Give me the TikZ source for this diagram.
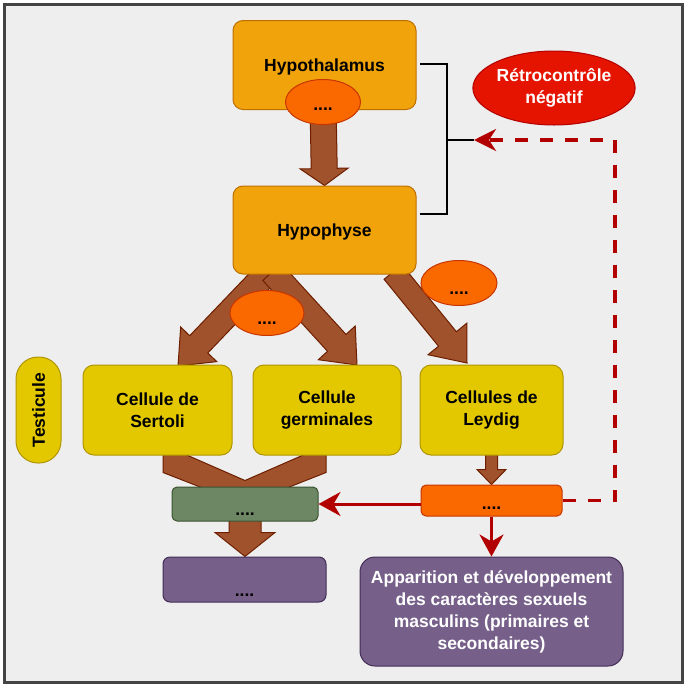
\documentclass[tikz,border=0pt]{standalone}
\usepackage{fontspec}
\setmainfont{Liberation Sans}
\usetikzlibrary{calc,shapes.geometric,arrows.meta,backgrounds}
\definecolor{bgc}{HTML}{EEEEEE}
\definecolor{framec}{HTML}{444444}
\definecolor{orfill}{HTML}{F0A30A}
\definecolor{ordraw}{HTML}{BD7000}
\definecolor{ofill}{HTML}{FA6800}
\definecolor{odraw}{HTML}{C73500}
\definecolor{brfill}{HTML}{A0522D}
\definecolor{brdraw}{HTML}{6D1F00}
\definecolor{yfill}{HTML}{E3C800}
\definecolor{ydraw}{HTML}{B09500}
\definecolor{gfill}{HTML}{6D8764}
\definecolor{gdraw}{HTML}{3A5431}
\definecolor{pfill}{HTML}{76608A}
\definecolor{pdraw}{HTML}{432D57}
\definecolor{rfill}{HTML}{E51400}
\definecolor{rdraw}{HTML}{B20000}
\newcommand\blockarr[5]{%
  \filldraw[blockarrow] let \p1=($(#2)-(#1)$), \n1={atan2(\y1,\x1)} in
   ($(#1)+(\n1+90:#3pt)$) -- ($(#2)+(\n1+180:#5pt)+(\n1+90:#3pt)$)
   -- ($(#2)+(\n1+180:#5pt)+(\n1+90:#4pt)$) -- (#2)
   -- ($(#2)+(\n1+180:#5pt)+(\n1-90:#4pt)$) -- ($(#2)+(\n1+180:#5pt)+(\n1-90:#3pt)$)
   -- ($(#1)+(\n1-90:#3pt)$) -- cycle;}
\tikzset{
  every node/.style={font=\fontsize{17.5}{22}\selectfont\bfseries, align=center, inner sep=0pt},
  dotlbl/.style={anchor=base},
  hbox/.style={draw=ordraw, fill=orfill, line width=1pt, rounded corners=10pt, minimum width=183pt, minimum height=89pt},
  cellbox/.style={draw=ydraw, fill=yfill, line width=1pt, rounded corners=11pt, minimum height=90pt},
  oell/.style={ellipse, draw=odraw, fill=ofill, line width=1pt},
  blockarrow/.style={fill=brfill, draw=brdraw, line width=1pt, line join=miter},
  redarr/.style={draw=rdraw, line width=3pt, -{Stealth[length=22pt, width=24pt, inset=7pt]}},
  dasharr/.style={draw=rdraw, line width=3.5pt, dash pattern=on 13pt off 12pt, -{Stealth[length=22pt, width=22pt, inset=7pt]}},
}
\begin{document}
\begin{tikzpicture}[x=1pt, y=-1pt]
\useasboundingbox (0,0) rectangle (685,686);
\begin{scope}[on background layer]
\fill[white] (0,0) rectangle (685,686);
\draw[line width=3pt, draw=framec, fill=bgc] (4.5,4.5) rectangle (682.5,682);
\end{scope}

% nodes
\node[hbox] (hypothal) at (324.5,65) {};
\node (hypothaltxt) at (324.5,66.5) {Hypothalamus};
\node[oell, minimum width=75pt, minimum height=45pt] (hypoell) at (323,102) {};
\node[dotlbl] (hypoelltxt) at ($(hypoell.center)+(0,8.6)$) {....};
\node[hbox, minimum height=88pt] (hypophyse) at (324.5,230) {};
\node (hypophysetxt) at (324.5,231.5) {Hypophyse};
\node[ellipse, draw=rdraw, fill=rfill, line width=1pt, minimum width=152pt, minimum height=74pt, text=white] (retro) at (554,88) {Rétrocontrôle\\négatif};

\node[cellbox, minimum width=149pt] (sertoli) at (157.5,410) {Cellule de\\Sertoli};
\node[cellbox, minimum width=148pt] (germ) at (327,410) {Cellule\\germinales};
\node[cellbox, minimum width=143pt] (leydig) at (491.5,410) {Cellules de\\Leydig};
\node[draw=ydraw, fill=yfill, line width=1pt, rounded corners=22pt, minimum width=45pt, minimum height=106pt] (testi) at (38.5,410) {};
\node[rotate=90] (testitxt) at (38.5,410) {Testicule};

\node[oell, minimum width=74pt, minimum height=45pt] (vell) at (267,313) {};
\node[dotlbl] (velltxt) at ($(vell.center)+(0,11.3)$) {....};
\node[oell, minimum width=76pt, minimum height=45pt] (lell) at (459,283) {};
\node[dotlbl] (lelltxt) at ($(lell.center)+(0,11.3)$) {....};

\node[draw=gdraw, fill=gfill, line width=1pt, rounded corners=5pt, minimum width=146pt, minimum height=34pt] (green) at (245,504) {};
\node[dotlbl] (greentxt) at ($(green.center)+(0,11)$) {....};
\node[draw=odraw, fill=ofill, line width=1pt, rounded corners=5pt, minimum width=141pt, minimum height=31pt] (obox) at (491.5,500.5) {};
\node[dotlbl] (oboxtxt) at ($(obox.center)+(0,9.1)$) {....};
\node[draw=pdraw, fill=pfill, line width=1pt, rounded corners=7pt, minimum width=163pt, minimum height=45pt] (purpL) at (244.5,579.5) {};
\node[dotlbl] (purpLtxt) at ($(purpL.center)+(0,16.8)$) {....};
\node[draw=pdraw, fill=pfill, line width=1pt, rounded corners=15pt, minimum width=263pt, minimum height=109pt, text=white] (purpR) at (491.5,611.5) {Apparition et développement\\des caractères sexuels\\masculins (primaires et\\secondaires)};

% coordinates for connectors
\coordinate (vls) at (268,272);
\coordinate (vlt) at (178,366);
\coordinate (vrs) at (272,272);
\coordinate (vrt) at (357,365);
\coordinate (lys) at (393,272);
\coordinate (lyt) at (467,363);
\coordinate (fb) at (474,140);

% block arrows behind nodes
\begin{scope}[on background layer]
\blockarr{hypoell.center}{hypophyse.north}{13}{24}{17}
\blockarr{vls}{vlt}{12.5}{25}{30}
\blockarr{vrs}{vrt}{12.5}{25}{30}
\blockarr{lys}{lyt}{11.5}{25}{31}
\blockarr{leydig.center}{obox.north}{6}{14.5}{15}
\blockarr{green.center}{green.south |- purpL.north}{16}{30}{24}
\filldraw[blockarrow] ($(green.north)+(-82,-34)$) -- ($(green.north)+(-82,-14)$) -- ($(green.north)+(0,18)$)
  -- ($(green.north)+(81,-14)$) -- ($(green.north)+(81,-34)$) -- ($(green.north)+(64,-34)$)
  -- ($(green.north)+(0,-6)$) -- ($(green.north)+(-64,-34)$) -- cycle;
\end{scope}

% bracket
\draw[line width=2.5pt, line cap=butt] (420,64) -| (447,214) -- (420,214);
\draw[line width=2.5pt] (447,140) -- (fb);

% red connectors
\draw[redarr] (obox.west |- green.east) -- (green.east);
\draw[redarr] (obox.south) -- (purpR.north);
\draw[dasharr] (obox.east) -- (615,500.5) |- (fb);
\end{tikzpicture}
\end{document}
